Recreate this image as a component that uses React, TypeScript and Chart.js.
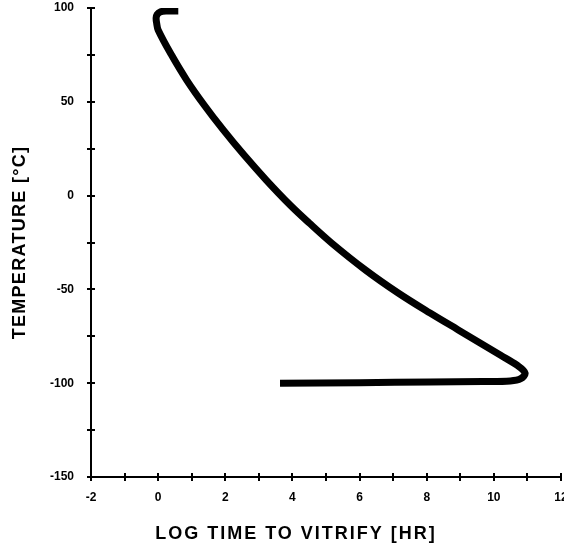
import React, { useEffect, useRef } from "react";
import { Chart, registerables } from "chart.js";

Chart.register(...registerables);

// Curve: log time to vitrify (hr) vs temperature (°C)
const logTime = [0.6, 0.24, 0.06, -0.03, -0.06, -0.045, 0.0, 0.4, 0.85, 1.37, 1.94, 2.56, 3.22, 3.93, 4.5, 5.17, 6.18, 7.15, 8.1, 8.94, 10.19, 10.69, 10.93, 10.8, 10.49, 9.68, 8.1, 6.0, 3.63];
const temperature = [98.4, 98.4, 97.9, 96.5, 94.7, 92.0, 88.3, 74.9, 61.6, 48.3, 35.0, 21.6, 8.3, -5.0, -14.6, -25.3, -39.7, -51.9, -62.6, -71.6, -85.0, -90.4, -94.6, -97.6, -98.8, -99.1, -99.4, -99.7, -100];

const xMajorTicks = [-2, 0, 2, 4, 6, 8, 10, 12];
const yMajorTicks = [-150, -100, -50, 0, 50, 100];
const xTitle = "LOG TIME TO VITRIFY [HR]";
const yTitle = "TEMPERATURE [°C]";

const FONT = "'Liberation Sans', Arial, Helvetica, sans-serif";

const crossTicks = {
  id: "crossTicks",
  afterDraw(chart: any) {
    const { ctx, chartArea } = chart;
    const x = chart.scales.x;
    const y = chart.scales.y;
    ctx.save();
    ctx.strokeStyle = "#000";
    ctx.lineWidth = 2;
    ctx.beginPath();
    x.ticks.forEach((_t: any, i: number) => {
      const px = Math.round(x.getPixelForTick(i));
      ctx.moveTo(px, chartArea.bottom - 4);
      ctx.lineTo(px, chartArea.bottom + 4);
    });
    y.ticks.forEach((_t: any, i: number) => {
      const py = Math.round(y.getPixelForTick(i));
      ctx.moveTo(chartArea.left - 4, py);
      ctx.lineTo(chartArea.left + 4, py);
    });
    ctx.stroke();

    ctx.fillStyle = "#000";
    ctx.font = `bold 18px ${FONT}`;
    ctx.textAlign = "center";
    ctx.textBaseline = "middle";
    (ctx as any).letterSpacing = "2px";
    ctx.fillText(xTitle, chartArea.left + 205, 534);
    ctx.translate(20, (chartArea.top + chartArea.bottom) / 2);
    ctx.rotate(-Math.PI / 2);
    (ctx as any).letterSpacing = "1.3px";
    ctx.fillText(yTitle, 0, 0);
    ctx.restore();
  },
};

export default function App() {
  const ref = useRef<HTMLCanvasElement>(null);

  useEffect(() => {
    if (!ref.current) return;
    const data = logTime.map((v, i) => ({ x: v, y: temperature[i] }));
    const chart = new Chart(ref.current, {
      type: "scatter",
      data: {
        datasets: [
          {
            data,
            showLine: true,
            borderColor: "#000",
            borderWidth: 7,
            pointRadius: 0,
            tension: 0.35,
            borderCapStyle: "butt",
            borderJoinStyle: "round",
            fill: false,
          } as any,
        ],
      },
      options: {
        responsive: false,
        animation: false,
        layout: { padding: { top: 8, right: 3, left: 0, bottom: 0 } },
        plugins: { legend: { display: false }, tooltip: { enabled: false } },
        scales: {
          x: {
            type: "linear",
            min: -2,
            max: 12,
            afterFit: (s: any) => {
              s.height = 69;
              s.paddingLeft = 0;
              s.paddingRight = 0;
            },
            grid: { display: true, drawOnChartArea: false, drawTicks: false, color: "rgba(0,0,0,0)" },
            border: { display: true, color: "#000", width: 2 },
            ticks: {
              stepSize: 1,
              autoSkip: false,
              maxRotation: 0,
              padding: 13,
              color: "#000",
              font: { family: FONT, size: 12, weight: "bold" },
              callback: (v: any) => (xMajorTicks.includes(Number(v)) ? String(v) : ""),
            },
          },
          y: {
            type: "linear",
            min: -150,
            max: 100,
            afterFit: (s: any) => {
              s.width = 91;
              s.paddingTop = 0;
              s.paddingBottom = 0;
            },
            grid: { display: true, drawOnChartArea: false, drawTicks: false, color: "rgba(0,0,0,0)" },
            border: { display: true, color: "#000", width: 2 },
            ticks: {
              stepSize: 25,
              autoSkip: false,
              padding: 17,
              color: "#000",
              font: { family: FONT, size: 12, weight: "bold" },
              callback: (v: any) => (yMajorTicks.includes(Number(v)) ? String(v) : ""),
            },
          },
        },
      },
      plugins: [crossTicks],
    });
    return () => chart.destroy();
  }, []);

  return (
    <div style={{ position: "fixed", left: 0, top: 0, width: 564, height: 546, background: "#fff" }}>
      <canvas ref={ref} width={564} height={546} style={{ display: "block" }} />
    </div>
  );
}
